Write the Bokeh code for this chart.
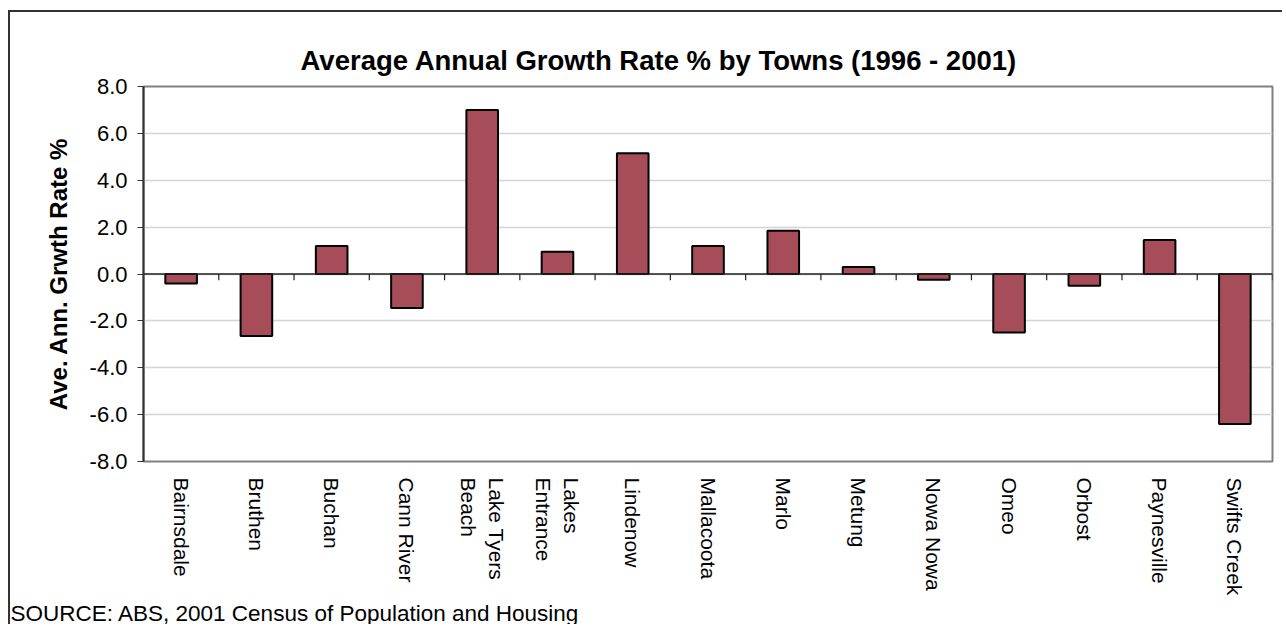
import math
from bokeh.plotting import figure
from bokeh.models import (ColumnDataSource, FixedTicker, NumeralTickFormatter, Span,
                          Title, Range1d)
from bokeh.transform import dodge
from bokeh.embed import file_html
from bokeh.resources import INLINE

# ---- data -------------------------------------------------------------
towns = ["Bairnsdale", "Bruthen", "Buchan", "Cann River", "Lake Tyers\nBeach",
         "Lakes\nEntrance", "Lindenow", "Mallacoota", "Marlo", "Metung",
         "Nowa Nowa", "Omeo", "Orbost", "Paynesville", "Swifts Creek"]
growth = [-0.4, -2.65, 1.2, -1.45, 7.0, 0.95, 5.15, 1.2, 1.85, 0.3,
          -0.25, -2.5, -0.5, 1.45, -6.4]
y_ticks = [-8, -6, -4, -2, 0, 2, 4, 6, 8]

title_text = "Average Annual Growth Rate % by Towns (1996 - 2001)"
y_label = "Ave. Ann. Grwth Rate %"
source_text = "SOURCE: ABS, 2001 Census of Population and Housing"

FONT = "Liberation Sans"

src = ColumnDataSource(data=dict(town=towns, growth=growth,
                                 tick_top=[0.0] * len(towns),
                                 tick_bot=[-0.27] * len(towns)))

p = figure(width=1274, height=614, x_range=towns, y_range=Range1d(-8, 8),
           output_backend="svg", toolbar_location=None,
           min_border_left=133, min_border_right=12, min_border_top=74,
           min_border_bottom=165)
p.styles = {"margin-left": "8px", "margin-top": "10px",
            "border-top": "2px solid #333333", "border-left": "2px solid #333333"}

p.title = Title(text=title_text, align="left", offset=157,
                text_font=FONT, text_font_size="27.5px", text_font_style="bold",
                text_color="black", standoff=21)

p.background_fill_color = "white"
p.border_fill_color = "white"
p.outline_line_color = "#808080"
p.outline_line_width = 2

# grid
p.xgrid.grid_line_color = None
p.ygrid.ticker = FixedTicker(ticks=y_ticks)
p.ygrid.grid_line_color = "#d4d4d4"
p.ygrid.grid_line_width = 1.5

# bars
p.vbar(x="town", top="growth", bottom=0, width=0.42, source=src,
       fill_color="#a64d59", line_color="black", line_width=2)

# zero line with category-boundary ticks
p.add_layout(Span(location=0, dimension="width", line_color="#222222", line_width=1.5))
p.segment(x0=dodge("town", 0.5, range=p.x_range), y0="tick_top",
          x1=dodge("town", 0.5, range=p.x_range), y1="tick_bot",
          source=src, line_color="#222222", line_width=1.2)

# y axis
yax = p.yaxis[0]
yax.ticker = FixedTicker(ticks=y_ticks)
yax.formatter = NumeralTickFormatter(format="0.0")
yax.axis_label = y_label
yax.axis_label_text_font = FONT
yax.axis_label_text_font_size = "24px"
yax.axis_label_text_font_style = "bold"
yax.axis_label_text_color = "black"
yax.axis_label_standoff = 15
yax.major_label_text_font = FONT
yax.major_label_text_font_size = "22px"
yax.major_label_text_color = "black"
yax.major_label_standoff = 10
yax.axis_line_color = "#333333"
yax.axis_line_width = 2
yax.major_tick_in = 0
yax.major_tick_out = 6
yax.major_tick_line_color = "#333333"
yax.minor_tick_line_color = None

# x axis (labels only, at bottom)
xax = p.xaxis[0]
xax.axis_line_color = None
xax.major_tick_line_color = None
xax.minor_tick_line_color = None
xax.major_label_orientation = -math.pi / 2
xax.major_label_text_font = FONT
xax.major_label_text_font_size = "21px"
xax.major_label_text_color = "black"
xax.major_label_standoff = 10

# source note below the axis labels
p.add_layout(Title(text=source_text, align="left", offset=-133,
                   text_font=FONT, text_font_size="22.5px",
                   text_font_style="normal", text_color="black",
                   standoff=0), "below")

open("out.html", "w").write(file_html(p, INLINE))
